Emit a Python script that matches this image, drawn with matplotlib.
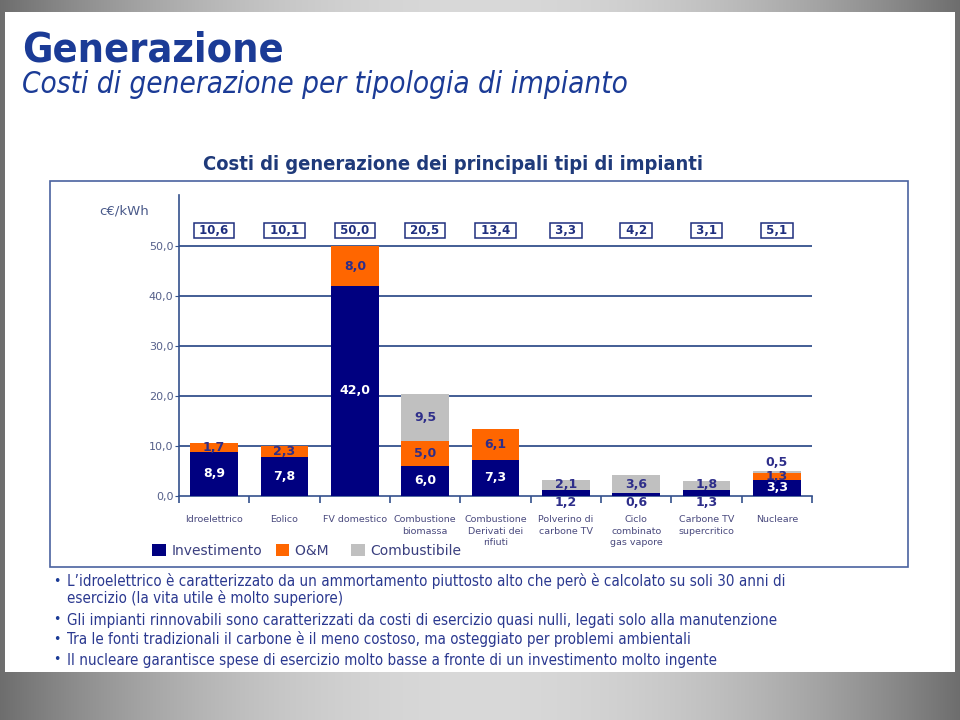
import numpy as np
import matplotlib.pyplot as plt
from matplotlib import font_manager
from matplotlib.patches import Rectangle

# Dati (c€/kWh)
categorie = ["Idroelettrico", "Eolico", "FV domestico", "Combustione\nbiomassa",
             "Combustione\nDerivati dei\nrifiuti", "Polverino di\ncarbone TV",
             "Ciclo\ncombinato\ngas vapore", "Carbone TV\nsupercritico", "Nucleare"]
investimento = [8.9, 7.8, 42.0, 6.0, 7.3, 1.2, 0.6, 1.3, 3.3]
om = [1.7, 2.3, 8.0, 5.0, 6.1, 0.0, 0.0, 0.0, 1.3]
combustibile = [0.0, 0.0, 0.0, 9.5, 0.0, 2.1, 3.6, 1.8, 0.5]
totali = [10.6, 10.1, 50.0, 20.5, 13.4, 3.3, 4.2, 3.1, 5.1]
y_ticks = [0, 10, 20, 30, 40, 50]
serie = ["Investimento", "O&M", "Combustibile"]

titolo = "Generazione"
sottotitolo = "Costi di generazione per tipologia di impianto"
titolo_grafico = "Costi di generazione dei principali tipi di impianti"
note = [
    ("L\u2019idroelettrico è caratterizzato da un ammortamento piuttosto alto che però è calcolato su soli 30 anni di",
     "esercizio (la vita utile è molto superiore)"),
    ("Gli impianti rinnovabili sono caratterizzati da costi di esercizio quasi nulli, legati solo alla manutenzione", None),
    ("Tra le fonti tradizionali il carbone è il meno costoso, ma osteggiato per problemi ambientali", None),
    ("Il nucleare garantisce spese di esercizio molto basse a fronte di un investimento molto ingente", None),
]

NAVY = '#000080'
ORANGE = '#FF6600'
GREY = '#C0C0C0'
BLUE_TXT = '#1B3B96'
LBL = '#2E2E8A'
AXC = '#34508C'


def fmt(v):
    return f"{v:.1f}".replace('.', ',')


def fx(px):
    return px / 960


def fy(py):
    return 1 - py / 720


avail = {f.name for f in font_manager.fontManager.ttflist}
narrow = 'Liberation Sans Narrow' if 'Liberation Sans Narrow' in avail else 'DejaVu Sans'

fig = plt.figure(figsize=(9.6, 7.2), dpi=100)
renderer = fig.canvas.get_renderer()


def fit(txt, width_px):
    bb = txt.get_window_extent(renderer)
    txt.set_fontsize(txt.get_fontsize() * width_px / bb.width)
    return txt.get_fontsize()


# sfondo grigio sfumato + slide bianca
bg = fig.add_axes([0, 0, 1, 1], zorder=-10)
bg.axis('off')
xs = np.linspace(-1, 1, 960)
col = 0.85 - 0.42 * xs ** 2
img = np.repeat(np.tile(col, (720, 1))[:, :, None], 3, axis=2)
bg.imshow(img, aspect='auto', extent=[0, 1, 0, 1], vmin=0, vmax=1)
fig.patches.append(Rectangle((fx(5), fy(672)), 950 / 960, 660 / 720, transform=fig.transFigure,
                             fc='white', ec='none', zorder=-5))

# titoli della slide
t = fig.text(fx(22), fy(62), titolo, fontsize=26, fontweight='bold', color=BLUE_TXT,
             family=narrow, stretch='condensed', ha='left', va='baseline')
fit(t, 262)
t = fig.text(fx(22), fy(93), sottotitolo, fontsize=20, style='italic', color=BLUE_TXT,
             family=narrow, stretch='condensed', ha='left', va='baseline')
fit(t, 606)
t = fig.text(fx(453), fy(164), titolo_grafico, fontsize=11, fontweight='bold', color='#1F3A7A',
             family=narrow, stretch='condensed', ha='center', va='center')
fit(t, 500)

# riquadro del grafico
fig.patches.append(Rectangle((fx(50), fy(567)), 858 / 960, 386 / 720, transform=fig.transFigure,
                             fc='none', ec='#4A62A0', lw=1.2, zorder=2))

ax = fig.add_axes([fx(179), fy(496), 633 / 960, 301 / 720])
ax.patch.set_alpha(0)
x = np.arange(len(categorie))
w = 0.68
inv = np.array(investimento)
omv = np.array(om)
comb = np.array(combustibile)

b1 = ax.bar(x, inv, w, color=NAVY, zorder=3, label=serie[0])
b2 = ax.bar(x, omv, w, bottom=inv, color=ORANGE, zorder=3, label=serie[1])
b3 = ax.bar(x, comb, w, bottom=inv + omv, color=GREY, zorder=3, label=serie[2])

for v in y_ticks[1:]:
    ax.axhline(v, color=AXC, lw=1.3, zorder=1)

ax.set_xlim(-0.5, len(categorie) - 0.5)
ax.set_ylim(0, 60.2)
for s in ['top', 'right']:
    ax.spines[s].set_visible(False)
for s in ['left', 'bottom']:
    ax.spines[s].set_color(AXC)
    ax.spines[s].set_linewidth(1.2)
ax.set_yticks(y_ticks)
ax.set_yticklabels([fmt(v) for v in y_ticks])
ax.tick_params(axis='y', length=3, color=AXC, labelsize=8, labelcolor='#55608A', pad=1)
ax.set_xticks(x)
ax.set_xticklabels(categorie, fontsize=6.8, color='#4A4A7E', linespacing=1.3)
ax.tick_params(axis='x', length=0, pad=14)
ax.set_xticks(np.arange(-0.5, len(categorie)), minor=True)
ax.tick_params(axis='x', which='minor', length=5, color=AXC, width=1.2)

fs = 9
for i in range(len(categorie)):
    # investimento
    if inv[i] >= 2:
        ax.text(i, inv[i] / 2, fmt(inv[i]), ha='center', va='center', color='white',
                fontsize=fs, fontweight='bold', zorder=5)
    else:
        ax.text(i, -1.4, fmt(inv[i]), ha='center', va='center', color=LBL,
                fontsize=fs, fontweight='bold', zorder=5, clip_on=False)
    # O&M
    if omv[i] > 0:
        ax.text(i, inv[i] + omv[i] / 2, fmt(omv[i]), ha='center', va='center', color=LBL,
                fontsize=fs, fontweight='bold', zorder=5)
    # combustibile
    if comb[i] >= 1:
        ax.text(i, inv[i] + omv[i] + comb[i] / 2, fmt(comb[i]), ha='center', va='center',
                color=LBL, fontsize=fs, fontweight='bold', zorder=5)
    elif comb[i] > 0:
        ax.text(i, totali[i] + 1.5, fmt(comb[i]), ha='center', va='center', color=LBL,
                fontsize=fs, fontweight='bold', zorder=5)
    # totale in riquadro
    ax.text(i, 53.1, " " + fmt(totali[i]) + " ", ha='center', va='center', color='#1F2F7F',
            fontsize=8.5, fontweight='bold', zorder=5,
            bbox=dict(boxstyle='square,pad=0.12', fc='white', ec='#1F2F7F', lw=1.1))

fig.text(fx(124), fy(211), "c€/kWh", fontsize=9.5, color='#4A5A8A', ha='center', va='center')

etichette = [serie[0], serie[1] + "  ", serie[2]]
leg = fig.legend(handles=[b1, b2, b3], labels=etichette, loc='center left',
                 bbox_to_anchor=(fx(152), fy(551)), ncol=3, frameon=False, fontsize=10,
                 handlelength=1.0, handleheight=1.0, handletextpad=0.43,
                 columnspacing=0.93, labelcolor='#3A3F7F', borderaxespad=0, borderpad=0)

# note a punti
righe_y = [581, 620, 639, 660]
testi = []
for (r1, r2), yy in zip(note, righe_y):
    fig.text(fx(57), fy(yy), "\u2022", fontsize=9, color=BLUE_TXT, ha='center', va='center',
             family='DejaVu Sans')
    testi.append(fig.text(fx(67), fy(yy), r1, fontsize=10, color='#2B3990', family=narrow,
                          stretch='condensed', ha='left', va='center'))
    if r2:
        testi.append(fig.text(fx(67), fy(yy + 17), r2, fontsize=10, color='#2B3990',
                              family=narrow, stretch='condensed', ha='left', va='center'))
size = fit(testi[0], 718)
for tt in testi[1:]:
    tt.set_fontsize(size)

fig.savefig('out.png', dpi=100)
